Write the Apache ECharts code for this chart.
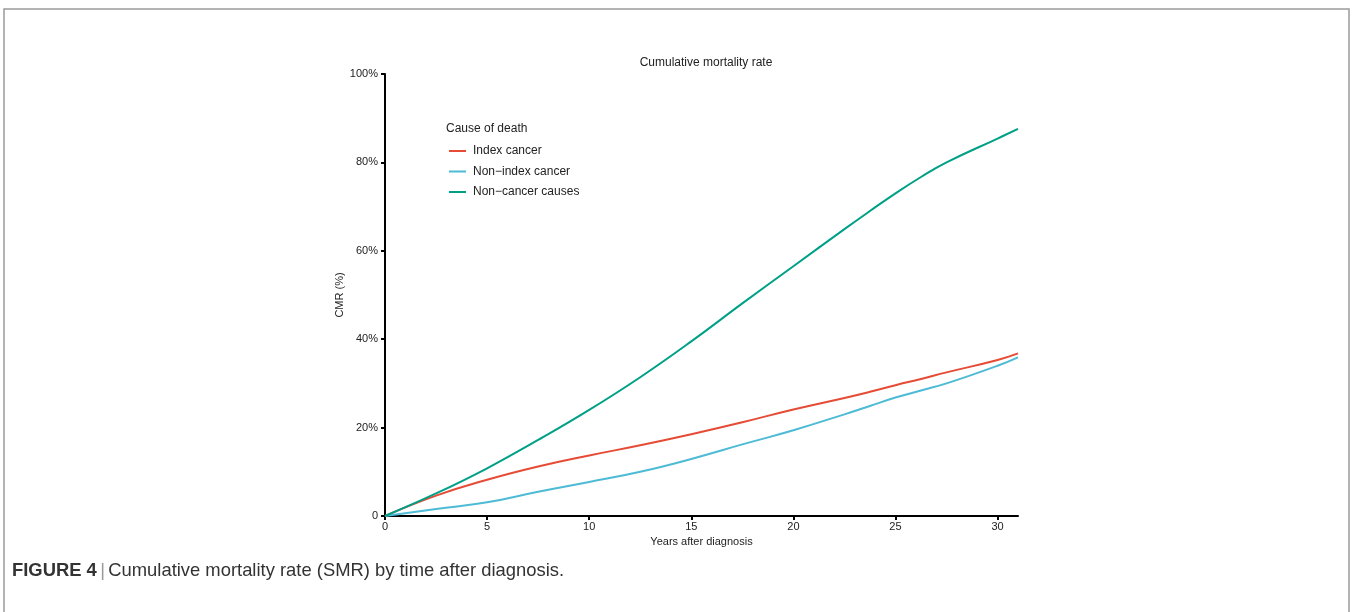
<!DOCTYPE html>
<html>
<head>
<meta charset="utf-8">
<script src="https://cdn.jsdelivr.net/npm/echarts@6/dist/echarts.min.js"></script>
<style>html,body{margin:0;padding:0;background:#fff;}#c{width:1352px;height:612px;}</style>
</head>
<body>
<div id="c"></div>
<script>
const years = [0, 2.5, 5, 7.5, 10, 12.5, 15, 17.5, 20, 22.5, 23.75, 25, 26.25, 27.5, 30, 31];
const indexCancer = [0, 4.6, 8.2, 11.2, 13.7, 16.0, 18.5, 21.2, 24.1, 26.7, 28.1, 29.6, 31.0, 32.5, 35.3, 36.8];
const nonIndexCancer = [0, 1.6, 3.1, 5.5, 7.7, 10.0, 12.9, 16.2, 19.4, 23.0, 24.9, 26.8, 28.4, 30.0, 34.0, 35.9];
const nonCancer = [0, 5.1, 10.8, 17.2, 24.0, 31.4, 39.5, 48.1, 56.5, 64.9, 69.0, 73.0, 76.7, 80.0, 85.4, 87.6];
const xTicks = [0, 5, 10, 15, 20, 25, 30];
const seriesNames = ['Index cancer', 'Non\u2212index cancer', 'Non\u2212cancer causes'];
const seriesColors = ['#E64B35', '#4DBBD5', '#00A087'];

const toPairs = arr => years.map((y, i) => [y, arr[i]]);
const allData = [indexCancer, nonIndexCancer, nonCancer];

const chart = echarts.init(document.getElementById('c'));
const font = 'Liberation Sans, Arial, sans-serif';
chart.setOption({
  backgroundColor: '#fff',
  animation: false,
  title: {
    text: 'Cumulative mortality rate',
    left: 701, top: 52, textAlign: 'center',
    textStyle: { fontFamily: font, fontSize: 12, fontWeight: 'normal', color: '#222' }
  },
  legend: {
    orient: 'vertical', left: 444, top: 140, itemGap: 8.5,
    icon: 'rect', itemWidth: 17, itemHeight: 2,
    textStyle: { fontFamily: font, fontSize: 12, color: '#222', padding: [0, 0, 0, 2] },
    data: seriesNames
  },
  grid: { left: 385, right: 334, top: 74, bottom: 96 },
  xAxis: {
    type: 'value', min: 0, max: 31, interval: 5,
    name: 'Years after diagnosis', nameLocation: 'middle', nameGap: 20,
    nameTextStyle: { fontFamily: font, fontSize: 11, color: '#222' },
    axisLine: { lineStyle: { color: '#000', width: 2 } },
    axisTick: { length: 4, customValues: xTicks, lineStyle: { color: '#000', width: 2 } },
    axisLabel: { fontFamily: font, fontSize: 11, color: '#222', margin: 5, customValues: xTicks,
      formatter: v => (v % 5 === 0 ? String(v) : '') },
    splitLine: { show: false }
  },
  yAxis: {
    type: 'value', min: 0, max: 100, interval: 20,
    name: 'CMR (%)', nameLocation: 'middle', nameGap: 40, nameRotate: 90,
    nameTextStyle: { fontFamily: font, fontSize: 11, color: '#222' },
    axisLine: { show: true, lineStyle: { color: '#000', width: 2 } },
    axisTick: { show: true, length: 4, lineStyle: { color: '#000', width: 2 } },
    axisLabel: { fontFamily: font, fontSize: 11, color: '#222', margin: 7,
      formatter: v => (v === 0 ? '0' : v + '%') },
    splitLine: { show: false }
  },
  series: allData.map((d, i) => ({
    name: seriesNames[i], type: 'line', data: toPairs(d), smooth: 0.45,
    showSymbol: false, symbol: 'none', color: seriesColors[i],
    lineStyle: { width: 2, color: seriesColors[i] }
  })),
  graphic: [
    { type: 'rect', shape: { x: 4, y: 9, width: 1345, height: 700 },
      style: { fill: 'none', stroke: '#9a9a9a', lineWidth: 1.5 }, silent: true },
    { type: 'text', left: 446, top: 123,
      style: { text: 'Cause of death', fontFamily: font, fontSize: 12, fill: '#222' } },
    { type: 'text', left: 12, top: 562,
      style: {
        text: '{b|FIGURE 4} {p||} {n|Cumulative mortality rate (SMR) by time after diagnosis.}',
        rich: {
          b: { fontFamily: font, fontSize: 18.4, fontWeight: 'bold', fill: '#333' },
          p: { fontFamily: font, fontSize: 18.4, fill: '#999' },
          n: { fontFamily: font, fontSize: 18.4, fill: '#333' }
        }
      } }
  ]
});
</script>
</body>
</html>
